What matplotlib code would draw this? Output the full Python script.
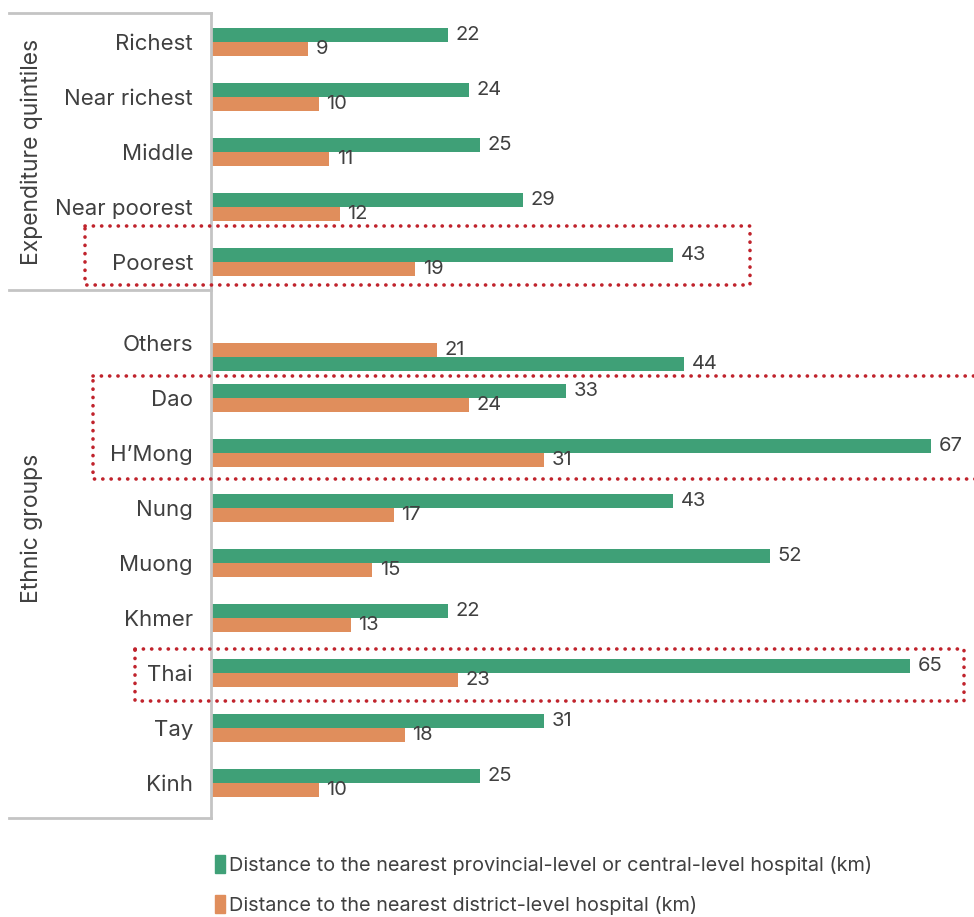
import matplotlib
matplotlib.use("Agg")
import matplotlib.pyplot as plt
from matplotlib.patches import Patch
import matplotlib.transforms as mtransforms

## Data ------------------------------------------------------------------------
quintiles = ["Richest", "Near richest", "Middle", "Near poorest", "Poorest"]
quint_prov = [22, 24, 25, 29, 43]
quint_dist = [9, 10, 11, 12, 19]

ethnic = ["Others", "Dao", "H\u2019Mong", "Nung", "Muong", "Khmer", "Thai", "Tay", "Kinh"]
ethnic_prov = [44, 33, 67, 43, 52, 22, 65, 31, 25]
ethnic_dist = [21, 24, 31, 17, 15, 13, 23, 18, 10]

lbl_prov = "Distance to the nearest provincial-level or central-level hospital (km)"
lbl_dist = "Distance to the nearest district-level hospital (km)"

## Style -----------------------------------------------------------------------
green = "#3fa077"
orange = "#e08e5c"
txt = "#404040"
grey = "#c4c4c4"
red = "#c0232c"
plt.rcParams['font.family'] = ['Inter', 'DejaVu Sans']

W, H = 974, 917
fig = plt.figure(figsize=(W/100, H/100), dpi=100)
# plot area: x from 211px to right edge, y from 13px to 818px
ax = fig.add_axes([211/W, 1-818/H, (W-211)/W, (818-13)/H])

step = 55.0          # px between rows
h = 14/step          # bar height in row units
gap = 1.473          # extra space between the two groups
pos_q = [i for i in range(len(quintiles))]
pos_e = [len(quintiles) - 1 + gap + j for j in range(len(ethnic))]
vfs = 14.5

for p, g, o in zip(pos_q, quint_prov, quint_dist):
    ax.barh(p - h/2, g, height=h, color=green)
    ax.barh(p + h/2, o, height=h, color=orange)
    ax.text(g + 0.7, p - h/2, str(g), va='center', ha='left', color=txt, fontsize=vfs)
    ax.text(o + 0.7, p + h/2, str(o), va='center', ha='left', color=txt, fontsize=vfs)

for name, p, g, o in zip(ethnic, pos_e, ethnic_prov, ethnic_dist):
    gy = p + 1.5*h if name == "Others" else p - h/2
    ax.barh(gy, g, height=h, color=green)
    ax.barh(p + h/2, o, height=h, color=orange)
    ax.text(g + 0.7, gy, str(g), va='center', ha='left', color=txt, fontsize=vfs)
    ax.text(o + 0.7, p + h/2, str(o), va='center', ha='left', color=txt, fontsize=vfs)

ax.set_xlim(0, (W-211)/10.75)
ax.set_ylim((818-42)/step, -29/step)
ax.set_xticks([])
ax.set_yticks(pos_q + pos_e)
ax.set_yticklabels(quintiles + ethnic, fontsize=16, color=txt)
ax.tick_params(axis='y', length=0, pad=13)
for s in ['top', 'right', 'bottom']:
    ax.spines[s].set_visible(False)
ax.spines['left'].set_color(grey)
ax.spines['left'].set_linewidth(2)

# grey frame around the category labels
x0 = (9-211)/(W-211)
ax.plot([x0, 0], [1, 1], color=grey, lw=2, transform=ax.transAxes, clip_on=False)
ax.plot([x0, 0], [0, 0], color=grey, lw=2, transform=ax.transAxes, clip_on=False)
blend = mtransforms.blended_transform_factory(ax.transAxes, ax.transData)
sep = (290-42)/step
ax.plot([x0, 0], [sep, sep], color=grey, lw=2, transform=blend, clip_on=False)

# group titles
fig.text(32/W, 1-152/H, "Expenditure quintiles", rotation=90, ha='center', va='center',
         fontsize=16.5, color=txt)
fig.text(32/W, 1-528/H, "Ethnic groups", rotation=90, ha='center', va='center',
         fontsize=16.5, color=txt)

# dotted highlight boxes, edges given in pixels
def px_box(l, r, t, b):
    xl, xr = (l-211)/10.75, (r-211)/10.75
    yt, yb = (t-42)/step, (b-42)/step
    ax.plot([xl, xr, xr, xl, xl], [yt, yt, yb, yb, yt], color=red, lw=2.6,
            linestyle=(0, (0.05, 2.25)), dash_capstyle='round', clip_on=False, zorder=5)

px_box(85, 750, 226, 285)
px_box(93, 990, 376, 479)
px_box(135, 964, 649, 701)

# legend
handles = [Patch(color=green, label=lbl_prov), Patch(color=orange, label=lbl_dist)]
fig.legend(handles=handles, loc='upper left', bbox_to_anchor=(205/W, 1-845/H),
           frameon=False, fontsize=14.3, handlelength=0.5, handleheight=1.0,
           handletextpad=0.2, labelspacing=1.05, labelcolor=txt, borderpad=0)

fig.savefig("out.png", dpi=100)
